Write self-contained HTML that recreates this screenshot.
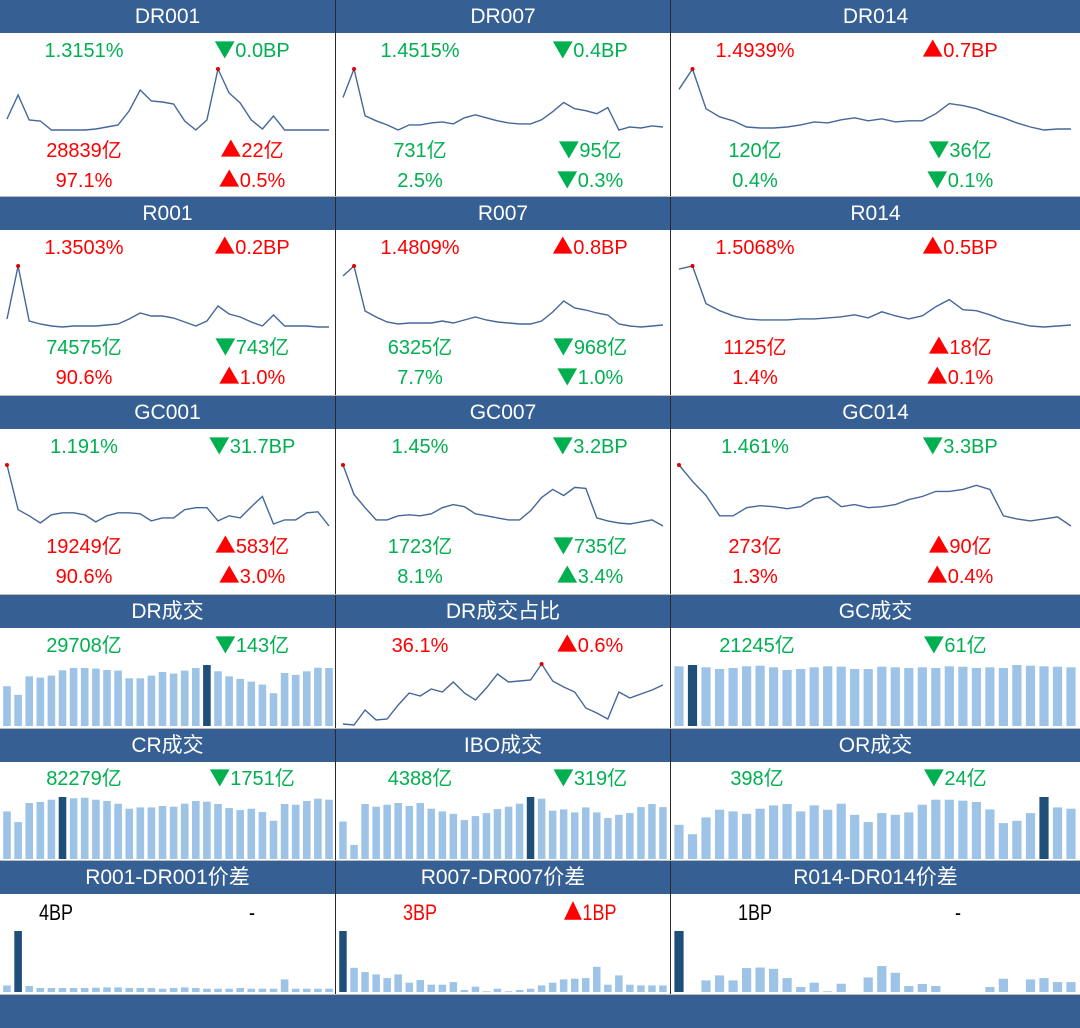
<!DOCTYPE html>
<html><head><meta charset="utf-8">
<style>
html,body{margin:0;padding:0;background:#fff;}
#root{position:relative;width:1080px;height:1028px;overflow:hidden;background:#fff;font-family:"Liberation Sans","Noto Sans CJK SC",sans-serif;}
.hdr{position:absolute;height:33px;background:#365f94;color:#fff;font-size:21px;line-height:33px;text-align:center;}
.txt{position:absolute;font-size:20px;line-height:24px;white-space:nowrap;transform:translateX(-50%);}
.nar{transform:translateX(-50%) scaleX(0.82);font-size:22px;}
.tri{font-family:"Noto Sans CJK SC",sans-serif;font-size:1.05em;line-height:0;vertical-align:baseline;}
.vsep{position:absolute;width:1px;background:#2a2a2a;}
.hsep{position:absolute;height:1px;background:#bdbdbd;left:0;width:1080px;}
svg{position:absolute;left:0;top:0;}
</style></head>
<body>
<div id="root">
<svg id="chart" width="1080" height="1028"></svg>
</div>
<script>
// ---- line series (rate / share curves) ----
const dr001 = [11,35,10,9,0,0,0,0,1,3,5,19,40,29,28,26,9,0,10,61,37,27,10,1,14,0,0,0,0,0];
const dr007 = [32,60,14,9,5,0,5,5,7,8,6,12,15,12,9,7,6,6,10,18,27,21,19,16,22,0,3,2,4,3];
const dr014 = [40,60,21,13,9,3,2,2,3,5,8,7,10,12,9,11,8,9,9,16,26,24,21,16,12,7,3,0,1,1];
const r001 = [8,61,6,3,1,0,1,1,1,2,3,8,14,11,11,9,5,1,6,21,13,10,5,1,12,1,1,1,0,0];
const r007 = [51,61,16,10,5,3,4,4,4,6,4,7,10,7,5,4,3,3,6,15,26,19,17,14,12,3,1,0,1,2];
const r014 = [58,61,24,17,12,9,8,8,8,9,9,10,11,13,10,16,12,9,12,21,28,18,17,13,8,5,2,1,2,3];
const gc001 = [60,16,10,3,11,13,13,11,4,10,13,13,12,5,8,8,16,18,18,5,10,8,19,29,2,6,6,13,14,0];
const gc007 = [60,31,18,6,6,10,11,10,12,18,21,19,12,10,8,6,6,15,28,36,30,38,37,8,5,3,2,4,6,0];
const gc014 = [60,44,30,10,10,18,20,19,17,19,27,29,19,21,18,19,21,26,29,34,34,36,40,36,10,7,5,7,9,0];
const drShare = [1,0,15,5,6,20,32,29,36,33,43,32,25,37,51,43,44,45,61,44,38,33,17,12,6,33,27,31,35,40];
// ---- bar series (volumes) ----
const drVol = [120,94,150,146,152,168,175,175,173,169,167,144,144,152,163,158,167,175,184,165,150,142,134,125,99,160,154,165,176,175];
const gcVol = [180,184,177,172,175,180,182,177,169,172,177,180,179,172,172,179,177,175,177,175,180,179,175,177,175,184,182,180,179,177];
const crVol = [142,110,167,170,177,185,181,183,177,173,165,150,154,154,158,156,165,173,171,164,152,146,150,140,114,164,162,173,180,177];
const iboVol = [112,42,164,156,162,167,158,167,150,142,135,116,128,137,149,156,165,185,180,144,148,139,154,139,122,132,137,155,164,155];
const orVol = [102,74,124,147,142,135,150,160,164,142,160,147,165,132,110,137,132,139,162,177,177,174,170,148,107,114,137,185,154,150];
// ---- spread series (BP) ----
const sp001 = [20,184,18,12,12,12,12,12,13,14,14,12,12,12,10,12,14,12,10,10,10,12,10,10,10,38,10,10,10,10];
const sp007 = [184,73,60,53,42,53,28,36,22,22,30,6,16,2,10,2,6,10,20,28,38,40,42,76,22,50,22,20,20,20];
const sp014 = [184,0,35,50,35,72,74,70,42,15,28,2,25,0,44,78,58,18,24,18,0,0,0,15,40,0,38,42,30,30];

const G='#00b050', R='#ff0000', K='#000000';
const root=document.getElementById('root');
const svg=document.getElementById('chart');
const NS='http://www.w3.org/2000/svg';
const cols=[{x:0,w:335,p0:7,p1:329,lc:84,rc:252},{x:336,w:334,p0:343,p1:663,lc:420,rc:590},{x:671,w:409,p0:679,p1:1071,lc:755,rc:960}];
function xScale(c,n){return i=>c.p0+(c.p1-c.p0)*i/(n-1);}
function yScale(min,max,y0,y1){return v=>y0+(y1-y0)*(v-min)/((max-min)||1);}

function header(c,y,label,name){
  const d=document.createElement('div');d.className='hdr';
  d.style.left=c.x+'px';d.style.top=y+'px';d.style.width=c.w+'px';d.textContent=label;
  
  
  root.appendChild(d);
}
function text(x,y,t,color,name,narrow){
  const d=document.createElement('div');d.className='txt'+(narrow?' nar':'');
  d.style.left=x+'px';d.style.top=(y-12)+'px';d.style.color=color;
  const m=t.match(/^([▲▼]?)(.*)$/);
  if(m[1]){const s=document.createElement('span');s.className='tri';s.textContent=m[1];d.appendChild(s);}
  d.appendChild(document.createTextNode(m[2]));
  
  
  root.appendChild(d);
}
function line(c,vals,yTop,yBot,name){
  const xs=xScale(c,vals.length);const mn=Math.min(...vals),mx=Math.max(...vals);
  const ys=yScale(mn,mx,yBot,yTop);
  const pts=vals.map((v,i)=>xs(i).toFixed(1)+','+ys(v).toFixed(1)).join(' ');
  const pl=document.createElementNS(NS,'polyline');
  pl.setAttribute('points',pts);pl.setAttribute('fill','none');pl.setAttribute('stroke','#44679a');pl.setAttribute('stroke-width','1.4');
  
  
  svg.appendChild(pl);
  const im=vals.indexOf(mx);
  const ci=document.createElementNS(NS,'circle');
  ci.setAttribute('cx',xs(im));ci.setAttribute('cy',ys(mx));ci.setAttribute('r','2');ci.setAttribute('fill','#e00000');
  
  
  svg.appendChild(ci);
}
function bars(c,vals,hi,yBot,hMax,name){
  const xs=xScale(c,vals.length);const mx=Math.max(...vals);
  const sp=(c.p1-c.p0)/(vals.length-1);const bw=sp*0.68;
  vals.forEach((v,i)=>{
    const h=hMax*v/mx;if(h<=0)return;
    const r=document.createElementNS(NS,'rect');
    r.setAttribute('x',(xs(i)-bw/2).toFixed(1));r.setAttribute('y',(yBot-h).toFixed(1));
    r.setAttribute('width',bw.toFixed(1));r.setAttribute('height',h.toFixed(1));
    r.setAttribute('fill',i===hi?'#1f4e79':'#9dc3e6');
    
    
    svg.appendChild(r);
  });
}
// rows 1-3: rate line panels
const linePanels=[
 [0,0,'DR001',dr001,[['1.3151%',G],['▼0.0BP',G],['28839亿',R],['▲22亿',R],['97.1%',R],['▲0.5%',R]]],
 [1,0,'DR007',dr007,[['1.4515%',G],['▼0.4BP',G],['731亿',G],['▼95亿',G],['2.5%',G],['▼0.3%',G]]],
 [2,0,'DR014',dr014,[['1.4939%',R],['▲0.7BP',R],['120亿',G],['▼36亿',G],['0.4%',G],['▼0.1%',G]]],
 [0,197,'R001',r001,[['1.3503%',R],['▲0.2BP',R],['74575亿',G],['▼743亿',G],['90.6%',R],['▲1.0%',R]]],
 [1,197,'R007',r007,[['1.4809%',R],['▲0.8BP',R],['6325亿',G],['▼968亿',G],['7.7%',G],['▼1.0%',G]]],
 [2,197,'R014',r014,[['1.5068%',R],['▲0.5BP',R],['1125亿',R],['▲18亿',R],['1.4%',R],['▲0.1%',R]]],
 [0,396,'GC001',gc001,[['1.191%',G],['▼31.7BP',G],['19249亿',R],['▲583亿',R],['90.6%',R],['▲3.0%',R]]],
 [1,396,'GC007',gc007,[['1.45%',G],['▼3.2BP',G],['1723亿',G],['▼735亿',G],['8.1%',G],['▲3.4%',G]]],
 [2,396,'GC014',gc014,[['1.461%',G],['▼3.3BP',G],['273亿',R],['▲90亿',R],['1.3%',R],['▲0.4%',R]]],
];
linePanels.forEach(p=>{
  const c=cols[p[0]],y=p[1],n=p[2].toLowerCase();
  header(c,y,p[2],n+'-header');
  const b=y+34;
  line(c,p[3],b+35,b+96,n+'-rate-line');
  const off=[17,117,147];
  p[4].forEach((t,i)=>{const row=Math.floor(i/2);text(i%2?c.rc:c.lc,b+off[row],t[0],t[1],n+(i%2?'-change-':'-value-')+row);});
});
// row 4
header(cols[0],595,'DR成交','dr-volume-header');
bars(cols[0],drVol,18,726,61,'dr-volume');
text(84,646,'29708亿',G,'dr-volume-value');text(252,646,'▼143亿',G,'dr-volume-change');
header(cols[1],595,'DR成交占比','dr-share-header');
line(cols[1],drShare,664,725,'dr-share-line');
text(420,646,'36.1%',R,'dr-share-value');text(590,646,'▲0.6%',R,'dr-share-change');
header(cols[2],595,'GC成交','gc-volume-header');
bars(cols[2],gcVol,1,726,61,'gc-volume');
text(757,646,'21245亿',G,'gc-volume-value');text(955,646,'▼61亿',G,'gc-volume-change');
// row 5
header(cols[0],729,'CR成交','cr-volume-header');
bars(cols[0],crVol,5,859,62,'cr-volume');
text(84,779,'82279亿',G,'cr-volume-value');text(252,779,'▼1751亿',G,'cr-volume-change');
header(cols[1],729,'IBO成交','ibo-volume-header');
bars(cols[1],iboVol,17,859,62,'ibo-volume');
text(420,779,'4388亿',G,'ibo-volume-value');text(590,779,'▼319亿',G,'ibo-volume-change');
header(cols[2],729,'OR成交','or-volume-header');
bars(cols[2],orVol,27,859,62,'or-volume');
text(757,779,'398亿',G,'or-volume-value');text(955,779,'▼24亿',G,'or-volume-change');
// row 6 spreads
header(cols[0],861,'R001-DR001价差','spread-001-header');
bars(cols[0],sp001,1,992,61,'spread-001');
text(56,913,'4BP',K,'spread-001-value',1);text(252,913,'-',K,'spread-001-change',1);
header(cols[1],861,'R007-DR007价差','spread-007-header');
bars(cols[1],sp007,0,992,61,'spread-007');
text(420,913,'3BP',R,'spread-007-value',1);text(590,913,'▲1BP',R,'spread-007-change',1);
header(cols[2],861,'R014-DR014价差','spread-014-header');
bars(cols[2],sp014,0,992,61,'spread-014');
text(755,913,'1BP',K,'spread-014-value',1);text(958,913,'-',K,'spread-014-change',1);
// footer
const f=document.createElement('div');f.className='hdr';f.style.left='0px';f.style.top='995px';f.style.width='1080px';f.style.height='33px';


root.appendChild(f);
// separators
[335,670].forEach(x=>{const v=document.createElement('div');v.className='vsep';v.style.left=x+'px';v.style.top='0px';v.style.height='995px';


root.appendChild(v);});
[196,395,594,728,860,994].forEach(y=>{const h=document.createElement('div');h.className='hsep';h.style.top=y+'px';


root.appendChild(h);});
</script>
</body></html>
